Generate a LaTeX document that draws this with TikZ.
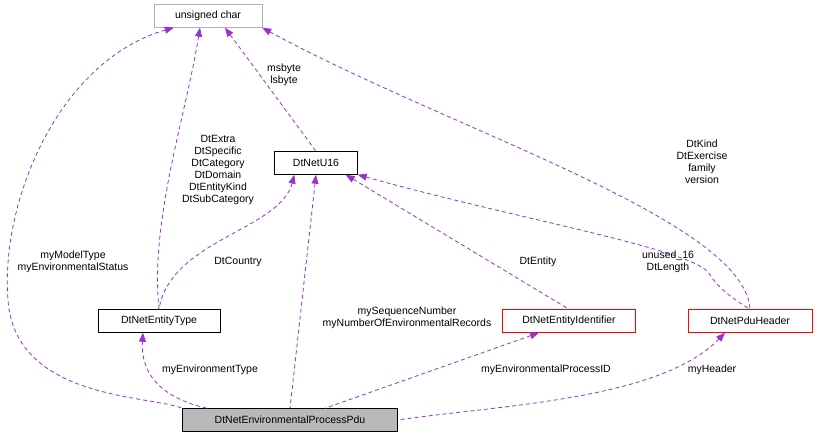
\documentclass[tikz,border=0pt]{standalone}
\usepackage{fontspec}
\setmainfont{Liberation Sans}
\usetikzlibrary{arrows.meta}
\definecolor{edge}{HTML}{9A32CD}
\begin{document}
\begin{tikzpicture}[x=1pt,y=-1pt,
  box/.style={draw=black,fill=white,minimum height=23pt,inner sep=3pt,font=\fontsize{10.5}{12}\selectfont},
  lbl/.style={font=\fontsize{10.5}{12}\selectfont,align=center,inner sep=1pt},
  dep/.style={draw=edge,line width=0.8pt,dashed,dash pattern=on 4pt off 3pt,{Triangle[length=9pt,width=7pt,fill=edge]}-}]
\useasboundingbox[fill=white] (0,0) rectangle (818,440);
\node[box,draw=gray!60,minimum width=108pt] (uc) at (208,16) {unsigned char};
\node[box,minimum width=83pt] (u16) at (316,163) {DtNetU16};
\node[box,minimum width=122pt] (et) at (159,321) {DtNetEntityType};
\node[box,draw=red,minimum width=133pt] (eid) at (569,321) {DtNetEntityIdentifier};
\node[box,draw=red,minimum width=124pt] (ph) at (750,321) {DtNetPduHeader};
\node[box,fill=gray!55,minimum width=215pt] (pdu) at (290,420) {DtNetEnvironmentalProcessPdu};

\draw[dep] (uc.south west)++(20,0) .. controls (60,60) and (0,200) .. (8,300) .. controls (15,400) and (150,395) .. (pdu.north west);
\draw[dep] (uc.south)++(-8,0) .. controls (185,120) and (150,220) .. (et.north);
\draw[dep] (uc.south)++(17,0) -- (u16.north);
\draw[dep] (uc.south east) .. controls (450,130) and (745,220) .. (ph.north);
\draw[dep] (u16.south west)++(20,0) .. controls (280,230) and (170,240) .. (et.north);
\draw[dep] (u16.south) -- (pdu.north);
\draw[dep] (u16.south east)++(-12,0) -- (eid.north);
\draw[dep] (u16.south east) .. controls (520,220) and (700,250) .. (710,275) .. controls (720,290) and (735,300) .. (ph.north);
\draw[dep] (et.south)++(-16,0) .. controls (140,380) and (170,400) .. ([xshift=25pt]pdu.north west);
\draw[dep] (eid.south)++(-30,0) -- ([xshift=35pt]pdu.north);
\draw[dep] (ph.south)++(-25,0) .. controls (660,400) and (500,405) .. (pdu.east);

\node[lbl] (l1) at (73,262) {myModelType\\myEnvironmentalStatus};
\node[lbl] (l2) at (218,170) {DtExtra\\DtSpecific\\DtCategory\\DtDomain\\DtEntityKind\\DtSubCategory};
\node[lbl] (l3) at (284,75) {msbyte\\lsbyte};
\node[lbl] (l4) at (702,162) {DtKind\\DtExercise\\family\\version};
\node[lbl] (l5) at (238,262) {DtCountry};
\node[lbl] (l6) at (407,318) {mySequenceNumber\\myNumberOfEnvironmentalRecords};
\node[lbl] (l7) at (538,262) {DtEntity};
\node[lbl] (l8) at (668,262) {unused\_16\\DtLength};
\node[lbl] (l9) at (210,370) {myEnvironmentType};
\node[lbl] (l10) at (546,370) {myEnvironmentalProcessID};
\node[lbl] (l11) at (712,370) {myHeader};
\end{tikzpicture}
\end{document}
